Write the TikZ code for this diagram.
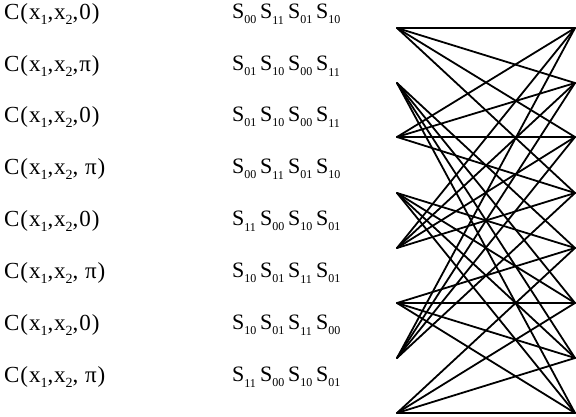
\documentclass[tikz,border=0pt]{standalone}
\usepackage{fontspec}
\setmainfont{Liberation Serif}
\newfontfamily\widefont[LetterSpace=4]{Liberation Serif}
\usetikzlibrary{positioning}

% lowered index, smaller than the letters
\newcommand{\idx}[1]{\raisebox{-0.25em}{\fontsize{14}{14}\selectfont #1}}
\newcommand{\sidx}[1]{\raisebox{-0.25em}{\fontsize{12}{12}\selectfont #1}}

\begin{document}
\begin{tikzpicture}[
        x=1pt, y=-1pt,
        label text/.style={font=\fontsize{22}{24}\selectfont, anchor=west, inner sep=0pt},
        cons text/.style={label text, font=\widefont\fontsize{23}{24}\selectfont},
        wire/.style={line width=1.8pt, line cap=round, line join=round},
    ]
    \useasboundingbox (0,0) rectangle (576,417);

    % Constraint labels
    \node[cons text] (c1) at (4,14) {C(x\idx{1},x\idx{2},0)};
    \node[cons text] (c2) at (4,66) {C(x\idx{1},x\idx{2},π)};
    \node[cons text] (c3) at (4,117) {C(x\idx{1},x\idx{2},0)};
    \node[cons text] (c4) at (4,169) {C(x\idx{1},x\idx{2}, π)};
    \node[cons text] (c5) at (4,221) {C(x\idx{1},x\idx{2},0)};
    \node[cons text] (c6) at (4,273) {C(x\idx{1},x\idx{2}, π)};
    \node[cons text] (c7) at (4,325) {C(x\idx{1},x\idx{2},0)};
    \node[cons text] (c8) at (4,377) {C(x\idx{1},x\idx{2}, π)};

    % Strategy labels, four per row
    \foreach \row/\y/\a/\b/\c/\d in {1/14/00/11/01/10, 2/66/01/10/00/11,
            3/117/01/10/00/11, 4/169/00/11/01/10, 5/221/11/00/10/01,
            6/273/10/01/11/01, 7/325/10/01/11/00, 8/377/11/00/10/01} {
        \node[label text] (s\row a) at (232,\y) {S\sidx{\a}};
        \node[label text] (s\row b) at (260,\y) {S\sidx{\b}};
        \node[label text] (s\row c) at (288,\y) {S\sidx{\c}};
        \node[label text] (s\row d) at (316,\y) {S\sidx{\d}};
    }

    % Junction points of the network
    \foreach \i/\y in {1/28, 2/83, 3/137, 4/193, 5/248, 6/303, 7/358, 8/413} {
        \coordinate (l\i) at (397,\y);
        \coordinate (r\i) at (575,\y);
    }

    % Odd rows go to the upper four points
    \foreach \i in {1,3,5,7} {
        \foreach \j in {1,2,3,4} {
            \draw[wire] (l\i) -- (r\j);
        }
    }

    % Even rows go to the lower four points
    \foreach \i in {2,4,6,8} {
        \foreach \j in {5,6,7,8} {
            \draw[wire] (l\i) -- (r\j);
        }
    }

\end{tikzpicture}
\end{document}
